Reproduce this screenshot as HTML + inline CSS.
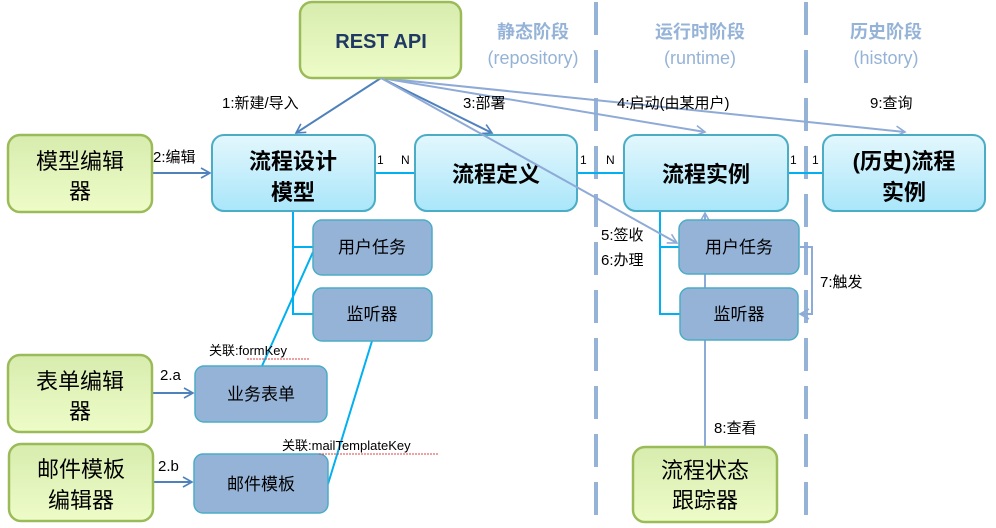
<!DOCTYPE html>
<html><head><meta charset="utf-8"><style>
body{margin:0;background:#fff}
svg{display:block}
text{font-family:"Liberation Sans","Noto Sans CJK SC",sans-serif}
</style></head><body>
<svg width="996" height="528" viewBox="0 0 996 528" xmlns="http://www.w3.org/2000/svg">
<defs>
<linearGradient id="g" x1="0" y1="0" x2="0" y2="1"><stop offset="0" stop-color="#d7ecae"/><stop offset="1" stop-color="#eefcc8"/></linearGradient>
<linearGradient id="c" x1="0" y1="0" x2="0" y2="1"><stop offset="0" stop-color="#e3f7fd"/><stop offset="1" stop-color="#a9e6fa"/></linearGradient>
<marker id="a" markerWidth="12" markerHeight="12" refX="10" refY="6" orient="auto" markerUnits="userSpaceOnUse"><path d="M1,1 L10,6 L1,11" fill="none" stroke="#4f81bd" stroke-width="1.6"/></marker>
<marker id="b" markerWidth="12" markerHeight="12" refX="10" refY="6" orient="auto" markerUnits="userSpaceOnUse"><path d="M1,1 L10,6 L1,11" fill="none" stroke="#8eaad6" stroke-width="1.6"/></marker>
</defs>
<g stroke="#95b3d7" stroke-width="4" stroke-dasharray="33,15">
<line x1="596" y1="2" x2="596" y2="528"/>
<line x1="806" y1="2" x2="806" y2="528"/>
</g>
<g font-size="18" fill="#95b3d7" text-anchor="middle" font-weight="bold">
<text x="533" y="38">静态阶段</text><text x="700" y="38">运行时阶段</text><text x="886" y="38">历史阶段</text>
</g>
<g font-size="18" fill="#95b3d7" text-anchor="middle">
<text x="533" y="64">(repository)</text><text x="700" y="64">(runtime)</text><text x="886" y="64">(history)</text>
</g>
<g stroke="#00b0f0" stroke-width="2" fill="none">
<path d="M293,211 V314 H313 M293,247 H313"/>
<path d="M375,173 H415 M577,173 H624 M788,173 H823"/>
<path d="M660,211 V314 H680 M660,247 H680"/>
<path d="M313,252 L262,366 M372,341 L328,484"/>
</g>
<g stroke="#8eaad6" stroke-width="2" fill="none">
<line x1="381" y1="78" x2="705" y2="132" marker-end="url(#b)"/>
<line x1="381" y1="78" x2="905" y2="132" marker-end="url(#b)"/>
<path d="M800,247 H812 V314 H800" marker-end="url(#b)"/>
<line x1="705" y1="220" x2="705" y2="213" marker-end="url(#b)"/>
<line x1="705" y1="274" x2="705" y2="288"/>
<line x1="705" y1="340" x2="705" y2="447"/>
</g>
<g stroke="#4f81bd" stroke-width="2" fill="none">
<line x1="381" y1="78" x2="296" y2="133" marker-end="url(#a)"/>
<line x1="381" y1="78" x2="492" y2="133" marker-end="url(#a)"/>
<line x1="152" y1="173" x2="210" y2="173" marker-end="url(#a)"/>
<line x1="152" y1="393" x2="193" y2="393" marker-end="url(#a)"/>
<line x1="153" y1="482" x2="192" y2="482" marker-end="url(#a)"/>
</g>
<g fill="url(#g)" stroke="#9bbb59" stroke-width="2.5">
<rect x="300" y="2" width="161" height="76" rx="12"/>
<rect x="8" y="135" width="144" height="77" rx="12"/>
<rect x="8" y="355" width="144" height="77" rx="12"/>
<rect x="9" y="444" width="144" height="77" rx="12"/>
<rect x="633" y="447" width="144" height="75" rx="12"/>
</g>
<g fill="url(#c)" stroke="#4bacc6" stroke-width="2">
<rect x="212" y="135" width="163" height="76" rx="12"/>
<rect x="415" y="135" width="162" height="76" rx="12"/>
<rect x="624" y="135" width="164" height="76" rx="12"/>
<rect x="823" y="135" width="162" height="76" rx="12"/>
</g>
<g fill="#95b3d7" stroke="#4bacc6" stroke-width="1.5">
<rect x="313" y="220" width="119" height="55" rx="9"/>
<rect x="313" y="288" width="119" height="53" rx="9"/>
<rect x="195" y="366" width="132" height="56" rx="9"/>
<rect x="194" y="454" width="134" height="59" rx="9"/>
<rect x="679" y="220" width="120" height="54" rx="9"/>
<rect x="680" y="288" width="118" height="52" rx="9"/>
</g>
<text x="381" y="48" font-size="20" font-weight="bold" fill="#1f3864" text-anchor="middle">REST API</text>
<g font-size="22" fill="#000" text-anchor="middle">
<text x="80" y="169">模型编辑</text><text x="80" y="199">器</text>
<text x="80" y="389">表单编辑</text><text x="80" y="419">器</text>
<text x="81" y="477">邮件模板</text><text x="81" y="508">编辑器</text>
<text x="705" y="478">流程状态</text><text x="705" y="508">跟踪器</text>
</g>
<g font-size="22" fill="#000" text-anchor="middle" font-weight="bold">
<text x="293" y="169">流程设计</text><text x="293" y="200">模型</text>
<text x="496" y="182">流程定义</text>
<text x="706" y="182">流程实例</text>
<text x="904" y="169">(历史)流程</text><text x="904" y="200">实例</text>
</g>
<line x1="381" y1="78" x2="677" y2="243" stroke="#8eaad6" stroke-width="2" marker-end="url(#b)"/>
<g font-size="17" fill="#000" text-anchor="middle">
<text x="372" y="253">用户任务</text><text x="372" y="320">监听器</text>
<text x="261" y="400">业务表单</text><text x="261" y="490">邮件模板</text>
<text x="739" y="253">用户任务</text><text x="739" y="320">监听器</text>
</g>
<g font-size="15" fill="#000">
<text x="222" y="108">1:新建/导入</text>
<text x="463" y="108">3:部署</text>
<text x="617" y="108">4:启动(由某用户)</text>
<text x="870" y="108">9:查询</text>
<text x="153" y="162">2:编辑</text>
<text x="601" y="240">5:签收</text>
<text x="601" y="265">6:办理</text>
<text x="820" y="287">7:触发</text>
<text x="714" y="433">8:查看</text>
<text x="160" y="380">2.a</text>
<text x="158" y="471">2.b</text>
</g>
<g font-size="13" fill="#000">
<text x="209" y="355">关联:formKey</text>
<text x="282" y="450">关联:mailTemplateKey</text>
</g>
<g stroke="#e04040" stroke-width="1" fill="none" stroke-dasharray="2,1">
<line x1="247" y1="359" x2="309" y2="359"/>
<line x1="319" y1="454" x2="439" y2="454"/>
</g>
<g font-size="12" fill="#000">
<text x="377" y="164">1</text><text x="401" y="164">N</text>
<text x="580" y="164">1</text><text x="606" y="164">N</text>
<text x="790" y="164">1</text><text x="812" y="164">1</text>
</g>
</svg>
</body></html>
